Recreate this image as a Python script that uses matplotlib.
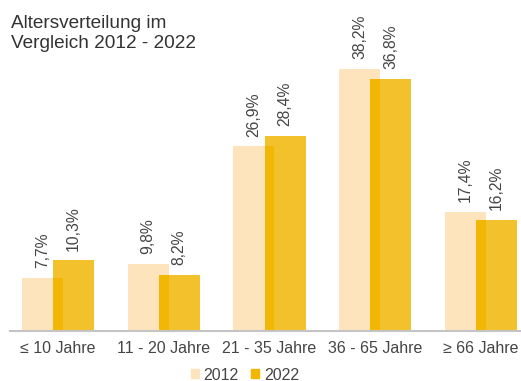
import numpy as np
from matplotlib import pyplot as plt
from matplotlib.patches import Patch

plt.rcParams['font.family'] = ['Liberation Sans', 'DejaVu Sans']

# age groups and shares (%)
CATEGORIES = ['≤ 10 Jahre', '11 - 20 Jahre', '21 - 35 Jahre',
              '36 - 65 Jahre', '≥ 66 Jahre']
SHARE_2012 = [7.7, 9.8, 26.9, 38.2, 17.4]
SHARE_2022 = [10.3, 8.2, 28.4, 36.8, 16.2]
LABELS_2012 = ['7,7%', '9,8%', '26,9%', '38,2%', '17,4%']
LABELS_2022 = ['10,3%', '8,2%', '28,4%', '36,8%', '16,2%']
SERIES = ['2012', '2022']

C_2012 = '#FEE4BD'
C_2022 = '#F2C12C'
C_OVER = '#F2B705'
TXT = '#454545'

W = 0.388
OFF = 0.147

fig = plt.figure(figsize=(5.21, 3.81), dpi=100)
ax = fig.add_axes([10 / 521, 50 / 381, 511 / 521, 331 / 381])

x = np.arange(len(CATEGORIES))
v12 = np.array(SHARE_2012)
v22 = np.array(SHARE_2022)

ax.bar(x - OFF, v12, W, color=C_2012, zorder=2)
ax.bar(x + OFF, v22, W, color=C_2022, zorder=3)
# darker strip where the 2022 bar sits on top of the 2012 bar
over_l = x + OFF - W / 2
over_r = x - OFF + W / 2
ax.bar((over_l + over_r) / 2, np.minimum(v12, v22), over_r - over_l,
       color=C_OVER, zorder=4)

for xi, v, s in zip(x - OFF, v12, LABELS_2012):
    ax.annotate(s, (xi, v), xytext=(0, 7), textcoords='offset points',
                rotation=90, ha='center', va='bottom',
                fontsize=11.3, color=TXT)
for xi, v, s in zip(x + OFF, v22, LABELS_2022):
    ax.annotate(s, (xi, v), xytext=(0, 7), textcoords='offset points',
                rotation=90, ha='center', va='bottom',
                fontsize=11.3, color=TXT)

ax.set_xlim(-0.454, 4.378)
ax.set_ylim(0, 48.25)
ax.set_xticks(x)
ax.set_xticklabels(CATEGORIES, fontsize=11.5, color=TXT)
ax.tick_params(axis='x', length=0, pad=7)
ax.set_yticks([])
for sp in ['top', 'right', 'left']:
    ax.spines[sp].set_visible(False)
ax.spines['bottom'].set_color('#C4C4C4')
ax.spines['bottom'].set_linewidth(1.5)
ax.spines['bottom'].set_zorder(5)
ax.patch.set_alpha(0)

fig.text(11 / 521, 1 - 15 / 381, 'Altersverteilung im\nVergleich 2012 - 2022',
         ha='left', va='top', fontsize=13.7, color='#333333',
         linespacing=1.2)

handles = [Patch(color=C_2012), Patch(color=C_OVER)]
fig.legend(handles, SERIES, loc='center', bbox_to_anchor=(245 / 521, 1 - 375 / 381),
           ncol=2, frameon=False, fontsize=11.5, labelcolor=TXT,
           handlelength=0.5, handleheight=0.5, handletextpad=0.3,
           columnspacing=0.8)

fig.savefig('out.png', dpi=100)
